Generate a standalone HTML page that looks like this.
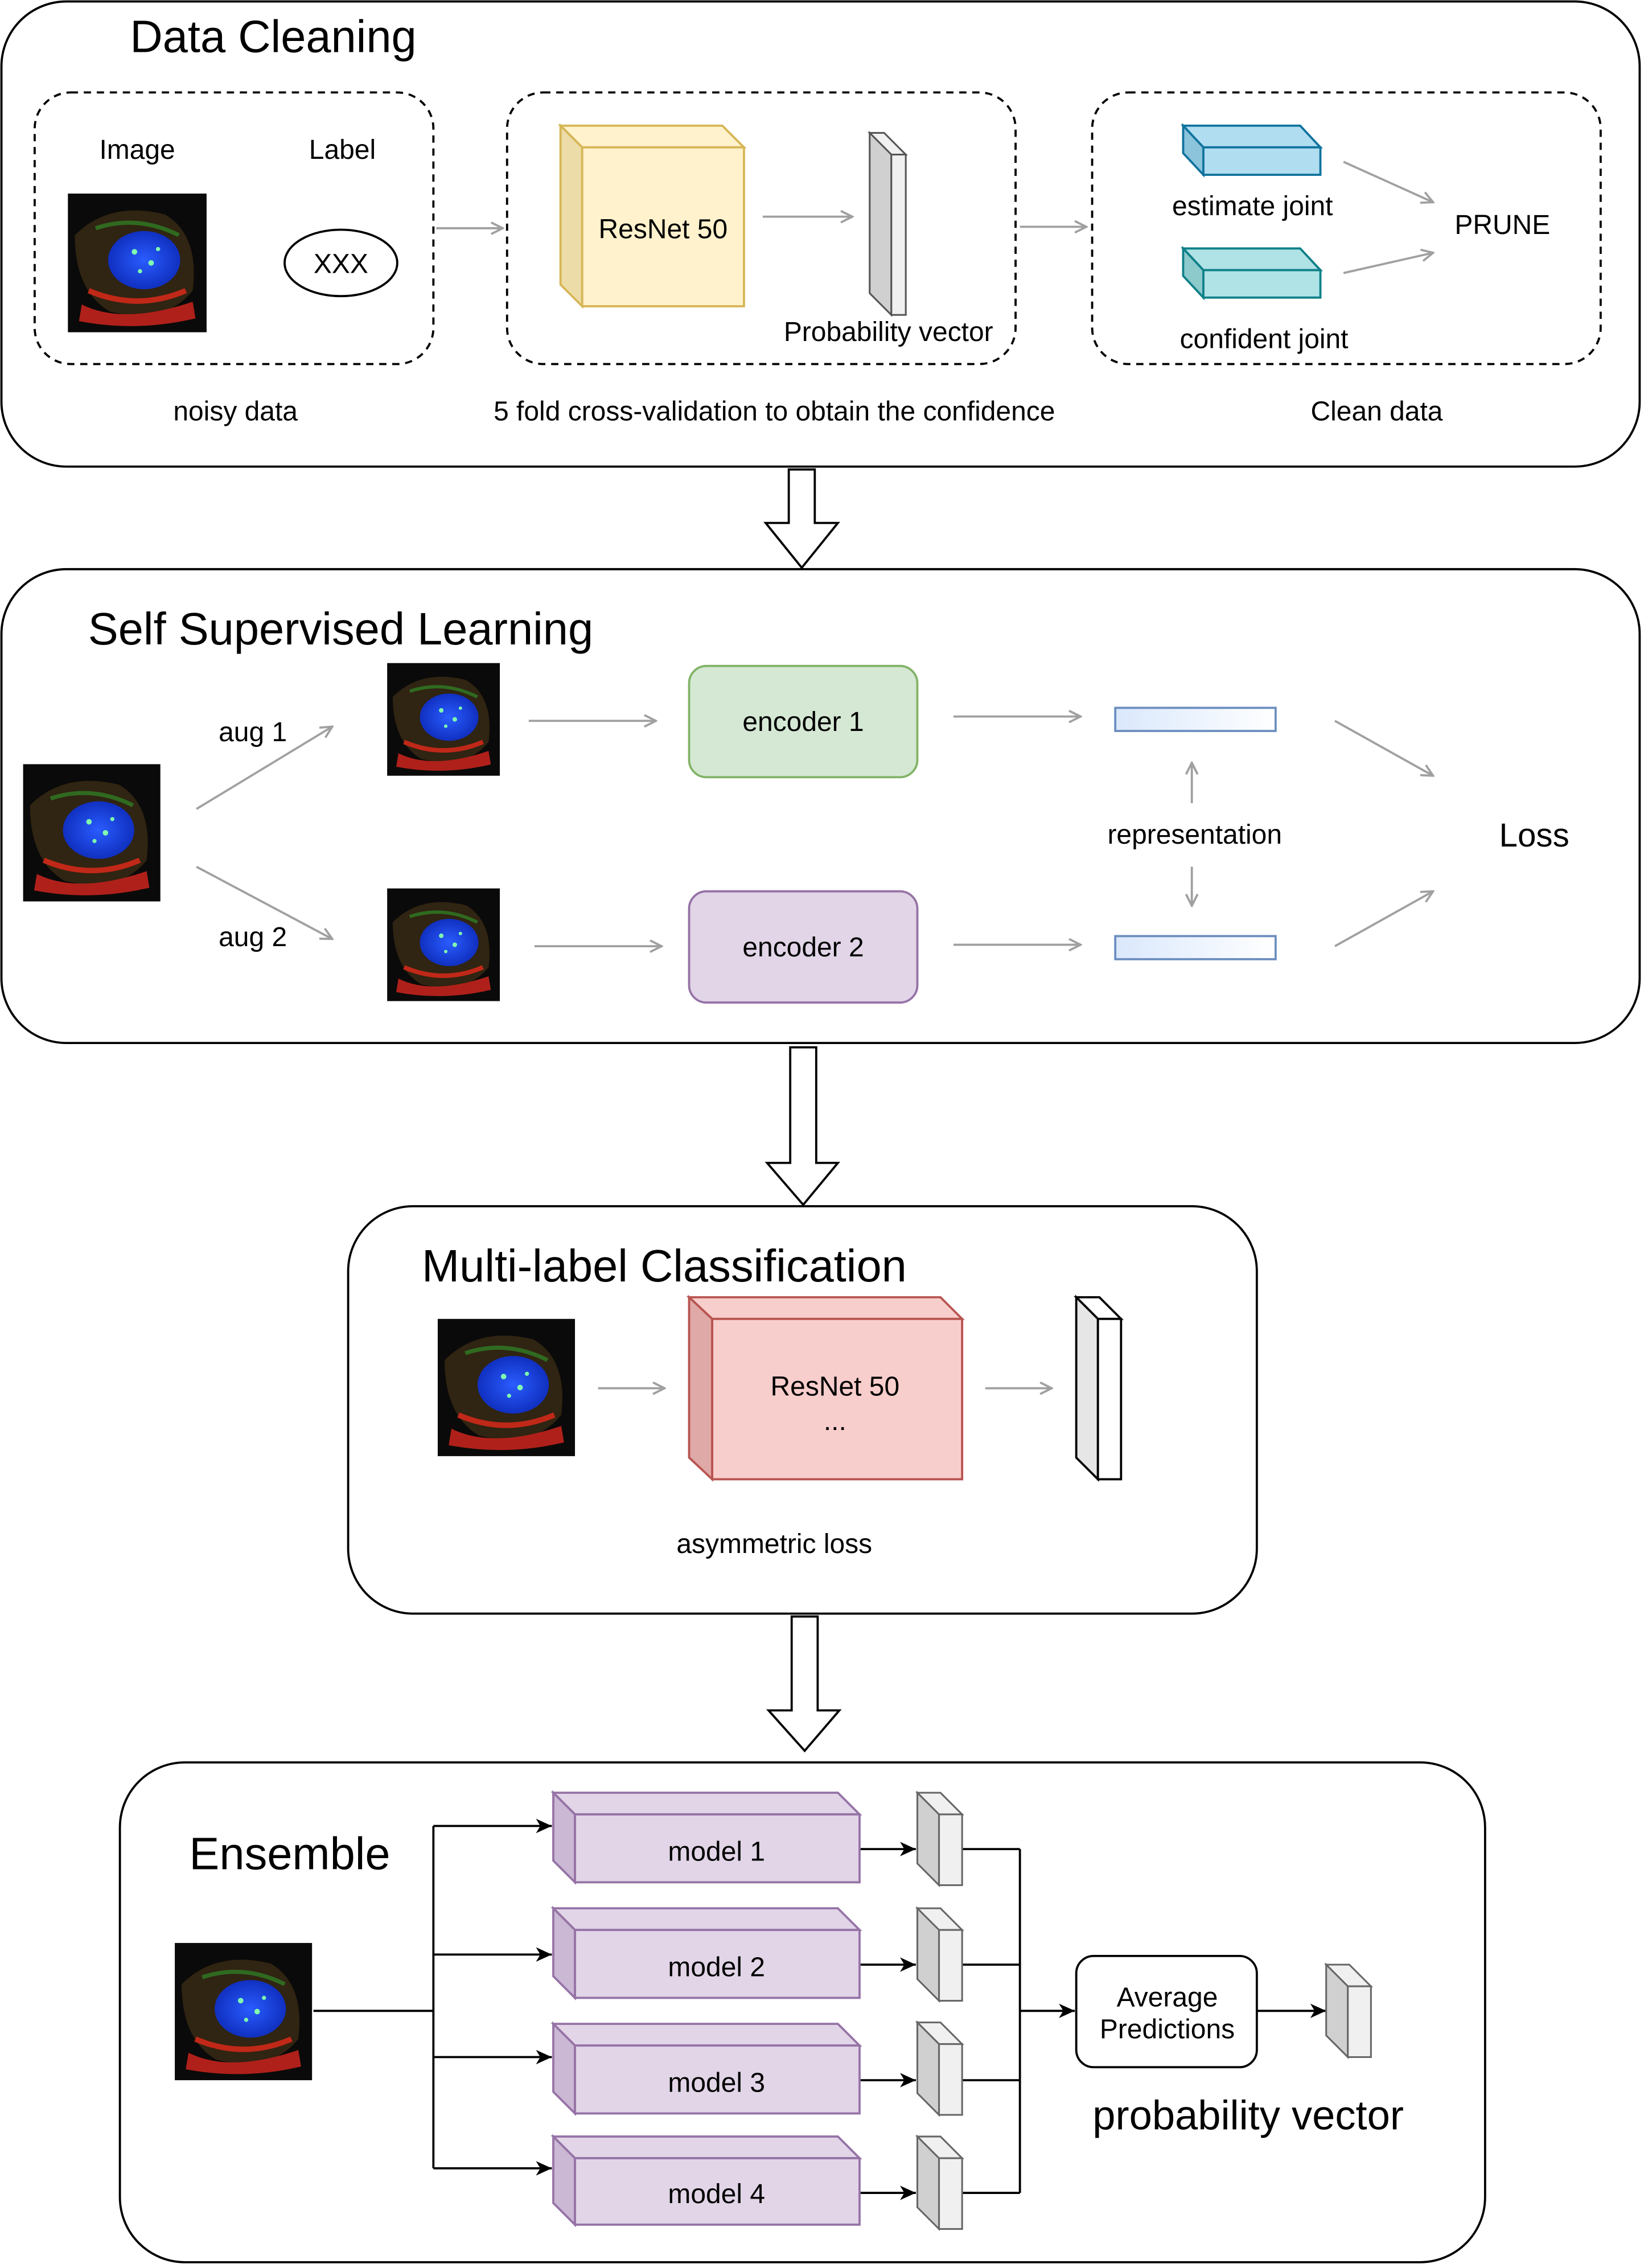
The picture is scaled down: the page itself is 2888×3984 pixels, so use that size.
<!DOCTYPE html>
<html><head><meta charset="utf-8"><style>
html,body{margin:0;padding:0;background:#fff;}
svg{display:block;}
text{font-family:"Liberation Sans",Arial,sans-serif;fill:#000;}
</style></head><body>
<svg width="2888" height="3984" viewBox="0 0 1138 1570" preserveAspectRatio="none" xmlns="http://www.w3.org/2000/svg">
<defs>
<marker id="ga" markerWidth="10" markerHeight="10" refX="9" refY="5" orient="auto" markerUnits="userSpaceOnUse"><path d="M1,1 L9,5 L1,9" fill="none" stroke="#a0a0a0" stroke-width="1.5"/></marker>
<marker id="ba" markerWidth="12" markerHeight="12" refX="11" refY="6" orient="auto" markerUnits="userSpaceOnUse"><path d="M0,1 L11,6 L0,11 L3,6 Z" fill="#000"/></marker>
<linearGradient id="rg" x1="0" x2="1"><stop offset="0" stop-color="#dae8fc"/><stop offset="1" stop-color="#fff"/></linearGradient>
<radialGradient id="nuc"><stop offset="0" stop-color="#2a5cff"/><stop offset="1" stop-color="#1030c0"/></radialGradient>
<g id="cell">
<rect x="0" y="0" width="100" height="100" fill="#0a0a0a"/>
<path d="M5,30 Q30,5 70,15 Q95,30 90,70 Q70,95 30,85 Q5,70 5,30Z" fill="#3a2a14" opacity="0.8"/>
<path d="M10,80 Q40,95 90,78 L92,90 Q50,100 8,92Z" fill="#b0201a"/>
<path d="M15,70 Q50,85 85,70" stroke="#c02818" stroke-width="4" fill="none"/>
<path d="M20,25 Q50,15 80,30" stroke="#2f6a20" stroke-width="3" fill="none"/>
<ellipse cx="55" cy="48" rx="26" ry="21" fill="url(#nuc)"/>
<circle cx="48" cy="42" r="2" fill="#7fffb0"/><circle cx="60" cy="50" r="2" fill="#7fffb0"/><circle cx="52" cy="56" r="1.5" fill="#7fffb0"/><circle cx="65" cy="40" r="1.5" fill="#7fffb0"/>
</g>
</defs>
<g fill="none" stroke="#000" stroke-width="1.5">
<rect x="1" y="1" width="1134" height="322" rx="45"/>
<rect x="1" y="394" width="1134" height="328" rx="45"/>
<rect x="241" y="835" width="629" height="282" rx="45"/>
<rect x="83" y="1220" width="945" height="346" rx="45"/>
<g stroke-dasharray="5,4">
<rect x="24" y="64" width="276" height="188" rx="25"/>
<rect x="351" y="64" width="352" height="188" rx="25"/>
<rect x="756" y="64" width="352" height="188" rx="25"/>
</g>
<ellipse cx="236" cy="182" rx="39" ry="23"/>
</g>
<!-- panel 1 -->
<text x="90" y="36" font-size="31.3">Data Cleaning</text>
<use href="#cell" transform="translate(47,134) scale(0.96)"/>
<text x="95" y="110" font-size="18.9" text-anchor="middle">Image</text>
<text x="237" y="110" font-size="18.9" text-anchor="middle">Label</text>
<text x="236" y="189" font-size="18.9" text-anchor="middle">XXX</text>
<g stroke="#a0a0a0" stroke-width="1.5" marker-end="url(#ga)">
<line x1="302" y1="158" x2="348" y2="158"/>
<line x1="528" y1="150" x2="590" y2="150"/>
<line x1="706" y1="157" x2="752" y2="157"/>
<line x1="930" y1="112" x2="992" y2="140"/>
<line x1="930" y1="189" x2="992" y2="175"/>
<line x1="136" y1="560" x2="230" y2="503"/>
<line x1="136" y1="600" x2="230" y2="650"/>
<line x1="366" y1="499" x2="454" y2="499"/>
<line x1="370" y1="655" x2="458" y2="655"/>
<line x1="660" y1="496" x2="748" y2="496"/>
<line x1="660" y1="654" x2="748" y2="654"/>
<line x1="825" y1="556" x2="825" y2="528"/>
<line x1="825" y1="600" x2="825" y2="627"/>
<line x1="924" y1="499" x2="992" y2="537"/>
<line x1="924" y1="655" x2="992" y2="617"/>
<line x1="414" y1="961" x2="460" y2="961"/>
<line x1="682" y1="961" x2="728" y2="961"/>
</g>
<g stroke="#d6b656" stroke-width="1.5" fill="#fff2cc">
<polygon points="388,87 500,87 515,102 403,102"/>
<polygon points="388,87 403,102 403,212 388,197" fill="#ecdca8"/>
<rect x="403" y="102" width="112" height="110"/>
</g>
<text x="459" y="165" font-size="18.9" text-anchor="middle">ResNet 50</text>
<g stroke="#555" stroke-width="1.2" fill="#f0f0f0">
<polygon points="602,92 612,92 627,107 617,107"/>
<polygon points="602,92 617,107 617,218 602,203" fill="#d0d0d0"/>
<rect x="617" y="107" width="10" height="111"/>
</g>
<text x="615" y="236" font-size="18.9" text-anchor="middle">Probability vector</text>
<g stroke="#10739e" stroke-width="1.5" fill="#b1ddf0">
<polygon points="819,87 900,87 914,102 833,102"/>
<polygon points="819,87 833,102 833,121 819,106" fill="#8cc4dc"/>
<rect x="833" y="102" width="81" height="19"/>
</g>
<g stroke="#0e8088" stroke-width="1.5" fill="#b0e3e6">
<polygon points="819,172 900,172 914,187 833,187"/>
<polygon points="819,172 833,187 833,206 819,191" fill="#8ccacc"/>
<rect x="833" y="187" width="81" height="19"/>
</g>
<text x="867" y="149" font-size="18.9" text-anchor="middle">estimate joint</text>
<text x="875" y="241" font-size="18.9" text-anchor="middle">confident joint</text>
<text x="1040" y="162" font-size="18.9" text-anchor="middle">PRUNE</text>
<text x="163" y="291" font-size="18.9" text-anchor="middle">noisy data</text>
<text x="536" y="291" font-size="18.9" text-anchor="middle">5 fold cross-validation to obtain the confidence</text>
<text x="953" y="291" font-size="18.9" text-anchor="middle">Clean data</text>
<!-- hollow arrows -->
<g fill="#fff" stroke="#000" stroke-width="1.5">
<polygon points="546,325 564,325 564,362 580,362 555,393 530,362 546,362"/>
<polygon points="547,725 565,725 565,805 580,805 556,834 531,805 547,805"/>
<polygon points="548,1119 566,1119 566,1184 581,1184 557,1212 532,1184 548,1184"/>
</g>
<!-- panel 2 -->
<text x="61" y="446" font-size="31.3">Self Supervised Learning</text>
<use href="#cell" transform="translate(16,529) scale(0.95)"/>
<use href="#cell" transform="translate(268,459) scale(0.78)"/>
<use href="#cell" transform="translate(268,615) scale(0.78)"/>
<text x="175" y="513" font-size="18.9" text-anchor="middle">aug 1</text>
<text x="175" y="655" font-size="18.9" text-anchor="middle">aug 2</text>
<rect x="477" y="461" width="158" height="77" rx="12" fill="#d5e8d4" stroke="#82b366" stroke-width="1.5"/>
<rect x="477" y="617" width="158" height="77" rx="12" fill="#e1d5e7" stroke="#9673a6" stroke-width="1.5"/>
<text x="556" y="506" font-size="18.9" text-anchor="middle">encoder 1</text>
<text x="556" y="662" font-size="18.9" text-anchor="middle">encoder 2</text>
<rect x="772" y="490" width="111" height="16" fill="url(#rg)" stroke="#6c8ebf" stroke-width="1.5"/>
<rect x="772" y="648" width="111" height="16" fill="url(#rg)" stroke="#6c8ebf" stroke-width="1.5"/>
<text x="827" y="584" font-size="18.9" text-anchor="middle">representation</text>
<text x="1062" y="586" font-size="23" text-anchor="middle">Loss</text>
<!-- panel 3 -->
<text x="292" y="887" font-size="31.3">Multi-label Classification</text>
<use href="#cell" transform="translate(303,913) scale(0.95)"/>
<g stroke="#b85450" stroke-width="1.5" fill="#f8cecc">
<polygon points="477,898 651,898 666,913 493,913"/>
<polygon points="477,898 493,913 493,1024 477,1009" fill="#dfa9a7"/>
<rect x="493" y="913" width="173" height="111"/>
</g>
<text x="578" y="966" font-size="18.9" text-anchor="middle">ResNet 50</text>
<text x="578" y="990" font-size="18.9" text-anchor="middle">...</text>
<g stroke="#000" stroke-width="1.5" fill="#fff">
<polygon points="745,898 761,898 776,913 760,913"/>
<polygon points="745,898 760,913 760,1024 745,1009" fill="#e6e6e6"/>
<rect x="760" y="913" width="16" height="111"/>
</g>
<text x="536" y="1075" font-size="18.9" text-anchor="middle">asymmetric loss</text>
<!-- panel 4 -->
<text x="131" y="1294" font-size="31.3">Ensemble</text>
<use href="#cell" transform="translate(121,1345) scale(0.95)"/>
<g stroke="#000" stroke-width="1.5" fill="none">
<line x1="217" y1="1392" x2="300" y2="1392"/>
<line x1="300" y1="1264" x2="300" y2="1501"/>
<line x1="706" y1="1280" x2="706" y2="1518"/>
<line x1="666" y1="1280" x2="706" y2="1280"/>
<line x1="666" y1="1360" x2="706" y2="1360"/>
<line x1="666" y1="1440" x2="706" y2="1440"/>
<line x1="666" y1="1518" x2="706" y2="1518"/>
<g marker-end="url(#ba)">
<line x1="300" y1="1264" x2="382" y2="1264"/>
<line x1="300" y1="1353" x2="382" y2="1353"/>
<line x1="300" y1="1424" x2="382" y2="1424"/>
<line x1="300" y1="1501" x2="382" y2="1501"/>
<line x1="595" y1="1280" x2="634" y2="1280"/>
<line x1="595" y1="1360" x2="634" y2="1360"/>
<line x1="595" y1="1440" x2="634" y2="1440"/>
<line x1="595" y1="1518" x2="634" y2="1518"/>
<line x1="706" y1="1392" x2="744" y2="1392"/>
<line x1="870" y1="1392" x2="918" y2="1392"/>
</g>
</g>
<g stroke="#9673a6" stroke-width="1.5" fill="#e1d5e7">
<polygon points="383,1241 580,1241 595,1256 398,1256"/><polygon points="383,1241 398,1256 398,1303 383,1288" fill="#cbb8d4"/><rect x="398" y="1256" width="197" height="47"/>
<polygon points="383,1321 580,1321 595,1336 398,1336"/><polygon points="383,1321 398,1336 398,1383 383,1368" fill="#cbb8d4"/><rect x="398" y="1336" width="197" height="47"/>
<polygon points="383,1401 580,1401 595,1416 398,1416"/><polygon points="383,1401 398,1416 398,1463 383,1448" fill="#cbb8d4"/><rect x="398" y="1416" width="197" height="47"/>
<polygon points="383,1479 580,1479 595,1494 398,1494"/><polygon points="383,1479 398,1494 398,1540 383,1525" fill="#cbb8d4"/><rect x="398" y="1494" width="197" height="46"/>
</g>
<text x="496" y="1288" font-size="18.9" text-anchor="middle">model 1</text>
<text x="496" y="1368" font-size="18.9" text-anchor="middle">model 2</text>
<text x="496" y="1448" font-size="18.9" text-anchor="middle">model 3</text>
<text x="496" y="1525" font-size="18.9" text-anchor="middle">model 4</text>
<g stroke="#666" stroke-width="1.2" fill="#f0f0f0">
<polygon points="635,1241 651,1241 666,1256 650,1256"/><polygon points="635,1241 650,1256 650,1305 635,1290" fill="#d0d0d0"/><rect x="650" y="1256" width="16" height="49"/>
<polygon points="635,1321 651,1321 666,1336 650,1336"/><polygon points="635,1321 650,1336 650,1385 635,1370" fill="#d0d0d0"/><rect x="650" y="1336" width="16" height="49"/>
<polygon points="635,1400 651,1400 666,1415 650,1415"/><polygon points="635,1400 650,1415 650,1464 635,1449" fill="#d0d0d0"/><rect x="650" y="1415" width="16" height="49"/>
<polygon points="635,1479 651,1479 666,1494 650,1494"/><polygon points="635,1479 650,1494 650,1543 635,1528" fill="#d0d0d0"/><rect x="650" y="1494" width="16" height="49"/>
<polygon points="918,1360 934,1360 949,1375 933,1375"/><polygon points="918,1360 933,1375 933,1424 918,1409" fill="#d0d0d0"/><rect x="933" y="1375" width="16" height="49"/>
</g>
<rect x="745" y="1354" width="125" height="77" rx="12" fill="#fff" stroke="#000" stroke-width="1.5"/>
<text x="808" y="1389" font-size="18.9" text-anchor="middle">Average</text>
<text x="808" y="1411" font-size="18.9" text-anchor="middle">Predictions</text>
<text x="864" y="1474" font-size="28.5" text-anchor="middle" fill="#333">probability vector</text>
</svg>
</body></html>
